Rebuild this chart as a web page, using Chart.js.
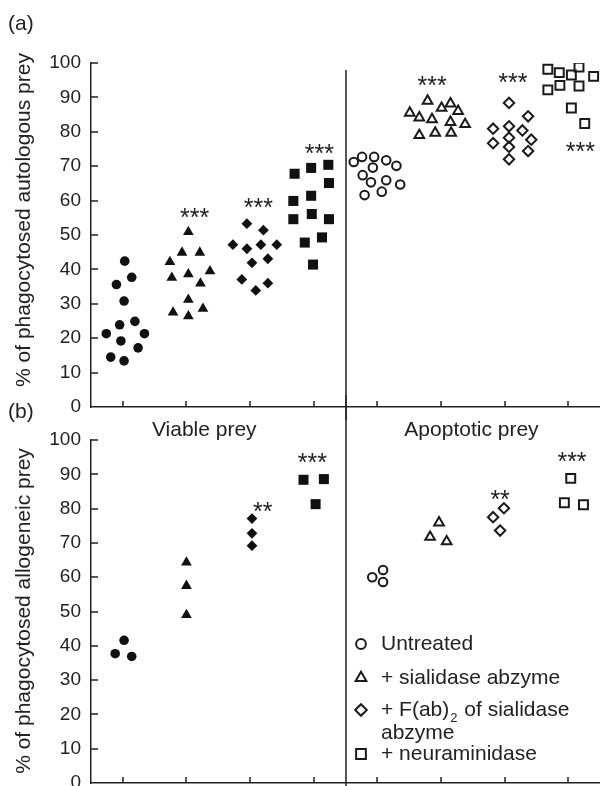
<!DOCTYPE html>
<html>
<head>
<meta charset="utf-8">
<script src="https://cdn.jsdelivr.net/npm/chart.js@4"></script>
<style>
html, body { margin: 0; padding: 0; background: #fff; }
#wrap { position: relative; width: 600px; height: 786px; overflow: hidden; }
.box { position: absolute; left: 0; width: 600px; }
</style>
</head>
<body>
<div id="wrap">
  <div class="box" style="top:0;height:420px"><canvas id="chartA"></canvas></div>
  <div class="box" style="top:395px;height:391px"><canvas id="chartB"></canvas></div>
</div>
<script>
const FONT = '"Liberation Sans", Arial, Helvetica, sans-serif';
const INK = '#222';

// groups 1-4 = viable prey, 5-8 = apoptotic prey
const groupTicks = [1, 2, 3, 4, 5, 6, 7, 8];
const panelNames = ['Viable prey', 'Apoptotic prey'];
const panelNameX = [2.28, 6.48];
const legendLabels = ['Untreated', '+ sialidase abzyme', '+ F(ab)', '+ neuraminidase'];

// (a) autologous prey, [group position, %]
const autoViableUntreated = [[1.03,42.4],[0.90,35.6],[1.14,37.7],[1.02,30.8],[0.95,23.9],[1.19,24.9],[0.74,21.3],[1.34,21.3],[0.97,19.2],[1.24,17.2],[0.81,14.5],[1.02,13.4]];
const autoViableAbzyme = [[2.03,50.9],[1.93,44.9],[2.21,44.9],[1.74,42.2],[2.03,38.6],[2.37,39.5],[1.77,37.6],[2.22,35.9],[2.03,31.2],[1.79,27.5],[2.03,26.4],[2.26,28.6]];
const autoViableFab = [[2.95,53.3],[3.21,51.4],[2.73,47.2],[2.95,46.0],[3.17,47.2],[3.42,47.2],[3.03,41.9],[3.28,43.1],[2.87,37.1],[3.28,36.0],[3.09,33.9]];
const autoViableNeur = [[3.70,67.8],[3.96,69.5],[4.23,70.4],[4.24,65.1],[3.96,61.4],[3.68,59.9],[3.68,54.6],[3.97,56.1],[4.24,54.6],[3.86,47.8],[4.13,49.3],[3.99,41.4]];
const autoApopUntreated = [[4.63,71.2],[4.76,72.7],[4.95,72.7],[5.14,71.7],[5.30,70.1],[4.93,69.6],[4.77,67.4],[4.90,65.3],[5.14,65.9],[5.36,64.7],[4.80,61.6],[5.07,62.6]];
const autoApopAbzyme = [[5.79,89.0],[5.51,85.5],[5.66,84.1],[5.86,83.6],[6.01,86.9],[6.15,88.2],[6.27,86.0],[6.15,82.8],[6.38,82.2],[5.66,79.0],[5.91,79.7],[6.16,79.7]];
const autoApopFab = [[7.07,88.4],[7.37,84.5],[6.82,80.9],[7.07,81.6],[7.28,80.4],[7.07,78.3],[7.42,77.7],[6.82,76.7],[7.07,75.6],[7.37,74.4],[7.07,72.0]];
const autoApopNeur = [[7.68,98.2],[7.86,97.2],[8.17,98.8],[8.05,96.5],[8.40,96.1],[7.68,92.2],[7.87,93.5],[8.17,93.3],[8.05,86.9],[8.26,82.4]];
const autoStars = [[2.13,56.2,'***'],[3.13,58.9,'***'],[4.09,74.8,'***'],[5.86,94.5,'***'],[7.13,95.4,'***'],[8.19,75.4,'***']];

// (b) allogeneic prey
const alloViableUntreated = [[1.02,41.6],[0.88,37.7],[1.14,36.9]];
const alloViableAbzyme = [[2.0,64.3],[2.0,57.5],[2.0,49.0]];
const alloViableFab = [[3.03,77.1],[3.03,72.8],[3.03,69.2]];
const alloViableNeur = [[3.84,88.4],[4.16,88.6],[4.03,81.3]];
const alloApopUntreated = [[5.09,62.1],[4.92,60.0],[5.09,58.6]];
const alloApopAbzyme = [[5.97,75.9],[5.83,71.7],[6.09,70.4]];
const alloApopFab = [[6.99,80.1],[6.82,77.5],[6.93,73.6]];
const alloApopNeur = [[8.04,88.8],[7.94,81.7],[8.24,81.1]];
const alloStars = [[3.2,80.1,'**'],[3.98,94.4,'***'],[6.93,83.7,'**'],[8.06,94.7,'***']];

const marks = [
  { style: 'circle', filled: 4.8, open: 4.3 },
  { style: 'triangle', filled: 6.2, open: 5.6 },
  { style: 'rectRot', filled: 5.4, open: 5.2 },
  { style: 'rect', filled: 7.1, open: 6.3 }
];

const pts = arr => arr.map(p => ({ x: p[0], y: p[1] }));

const makeSets = (viable, apop) => {
  const sets = [];
  viable.forEach((g, i) => sets.push({
    data: pts(g), pointStyle: marks[i].style, pointRadius: marks[i].filled,
    backgroundColor: '#111', borderColor: '#111', borderWidth: 0
  }));
  apop.forEach((g, i) => sets.push({
    data: pts(g), pointStyle: marks[i].style, pointRadius: marks[i].open,
    backgroundColor: 'rgba(0,0,0,0)', borderColor: '#1a1a1a', borderWidth: 2
  }));
  return sets;
};

const decor = cfg => ({
  id: 'decor',
  afterDraw(chart) {
    const { ctx, chartArea: ca, scales: { x, y } } = chart;
    ctx.save();
    ctx.strokeStyle = INK;
    ctx.lineWidth = 1.5;
    ctx.beginPath();
    groupTicks.forEach(v => {
      const px = Math.round(x.getPixelForValue(v));
      ctx.moveTo(px, ca.bottom);
      ctx.lineTo(px, ca.bottom - 6);
    });
    for (let v = 10; v <= 100; v += 10) {
      const py = Math.round(y.getPixelForValue(v));
      ctx.moveTo(ca.left, py);
      ctx.lineTo(ca.left + 7, py);
    }
    const dx = Math.round(x.getPixelForValue(4.5));
    ctx.moveTo(dx, cfg.divTop);
    ctx.lineTo(dx, chart.height);
    ctx.stroke();

    ctx.fillStyle = INK;
    ctx.textAlign = 'center';
    ctx.textBaseline = 'middle';
    ctx.font = '25px ' + FONT;
    cfg.stars.forEach(s => ctx.fillText(s[2], x.getPixelForValue(s[0]), y.getPixelForValue(s[1]) + 5));

    ctx.font = '21px ' + FONT;
    ctx.textAlign = 'left';
    ctx.fillText(cfg.tag, 8, cfg.tagY);
    ctx.save();
    ctx.translate(24, cfg.titleY);
    ctx.rotate(-Math.PI / 2);
    ctx.textAlign = 'center';
    ctx.fillText(cfg.title, 0, 0);
    ctx.restore();
    if (cfg.extra) cfg.extra(chart);
    ctx.restore();
  }
});

const drawLegend = chart => {
  const { ctx, scales: { x } } = chart;
  ctx.textAlign = 'left';
  ctx.textBaseline = 'middle';
  ctx.font = '21px ' + FONT;
  const rows = [249, 283, 315, 359];
  rows.forEach((ry, i) => {
    ctx.fillStyle = '#fff';
    ctx.strokeStyle = '#1a1a1a';
    ctx.lineWidth = 2;
    Chart.helpers.drawPoint(ctx, { pointStyle: marks[i].style, radius: marks[i].open + 0.6, rotation: 0, borderWidth: 2 }, 361, ry);
    ctx.fillStyle = INK;
    ctx.fillText(legendLabels[i], 381, ry);
  });
  // subscript and wrapped text for the F(ab)2 entry
  const w = ctx.measureText(legendLabels[2]).width;
  ctx.font = '13px ' + FONT;
  ctx.fillText('2', 381 + w + 1, rows[2] + 8);
  const w2 = ctx.measureText('2').width;
  ctx.font = '21px ' + FONT;
  ctx.fillText(' of sialidase', 381 + w + w2 + 2, rows[2]);
  ctx.fillText('abzyme', 381, 338);
  // panel names
  ctx.textAlign = 'center';
  panelNames.forEach((n, i) => ctx.fillText(n, x.getPixelForValue(panelNameX[i]), 35));
};

const makeOptions = (padTop, padBottom) => ({
  responsive: true,
  maintainAspectRatio: false,
  animation: false,
  layout: { autoPadding: false, padding: { top: padTop, right: 0, bottom: padBottom, left: 0 } },
  plugins: { legend: { display: false }, tooltip: { enabled: false } },
  scales: {
    x: {
      type: 'linear', min: 0.5, max: 8.5,
      afterFit: s => { s.height = 0; s.paddingLeft = 0; s.paddingRight = 0; },
      grid: { display: false, drawTicks: false },
      border: { display: true, color: INK, width: 1.5 },
      ticks: { display: false }
    },
    y: {
      min: 0, max: 100,
      afterFit: s => { s.width = 91; s.paddingTop = 0; s.paddingBottom = 0; },
      grid: { drawOnChartArea: false, drawTicks: false },
      border: { display: true, color: INK, width: 1.5 },
      ticks: { stepSize: 10, padding: 10, color: INK, font: { family: FONT, size: 19 } }
    }
  }
});

new Chart(document.getElementById('chartA'), {
  type: 'scatter',
  data: { datasets: makeSets([autoViableUntreated, autoViableAbzyme, autoViableFab, autoViableNeur], [autoApopUntreated, autoApopAbzyme, autoApopFab, autoApopNeur]) },
  options: makeOptions(63, 13),
  plugins: [decor({ divTop: 70, stars: autoStars, tag: '(a)', tagY: 24, title: '% of phagocytosed autologous prey', titleY: 220 })]
});

new Chart(document.getElementById('chartB'), {
  type: 'scatter',
  data: { datasets: makeSets([alloViableUntreated, alloViableAbzyme, alloViableFab, alloViableNeur], [alloApopUntreated, alloApopAbzyme, alloApopFab, alloApopNeur]) },
  options: makeOptions(45, 3),
  plugins: [decor({ divTop: 0, stars: alloStars, tag: '(b)', tagY: 17, title: '% of phagocytosed allogeneic prey', titleY: 216, extra: drawLegend })]
});
</script>
</body>
</html>
